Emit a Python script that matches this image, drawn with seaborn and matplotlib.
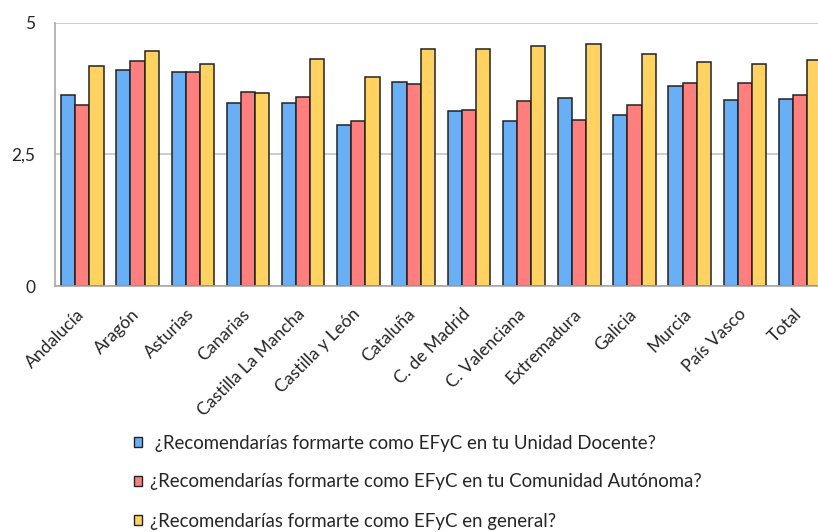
import numpy as np
import pandas as pd
import matplotlib
matplotlib.use('Agg')
import matplotlib.pyplot as plt
import matplotlib.transforms as mtransforms
import seaborn as sns

# data
regions = ['Andalucía', 'Aragón', 'Asturias', 'Canarias', 'Castilla La Mancha',
           'Castilla y León', 'Cataluña', 'C. de Madrid', 'C. Valenciana',
           'Extremadura', 'Galicia', 'Murcia', 'País Vasco', 'Total']
unidad_docente = [3.63, 4.11, 4.07, 3.48, 3.47, 3.07, 3.87, 3.32, 3.13, 3.57, 3.26, 3.80, 3.53, 3.55]
comunidad = [3.45, 4.28, 4.07, 3.69, 3.59, 3.13, 3.84, 3.34, 3.51, 3.15, 3.45, 3.85, 3.85, 3.64]
general = [4.18, 4.47, 4.22, 3.66, 4.32, 3.97, 4.51, 4.51, 4.56, 4.60, 4.41, 4.26, 4.22, 4.30]
series = ['¿Recomendarías formarte como EFyC en tu Unidad Docente?',
          '¿Recomendarías formarte como EFyC en tu Comunidad Autónoma?',
          '¿Recomendarías formarte como EFyC en general?']
colors = ['#69AFF5', '#FF7F7F', '#FFD261']

# long format for seaborn
df = pd.DataFrame({
    'Region': regions * 3,
    'Serie': [series[0]] * len(regions) + [series[1]] * len(regions) + [series[2]] * len(regions),
    'Valor': unidad_docente + comunidad + general,
})

sns.set_style('white')
plt.rcParams['font.family'] = ['Lato', 'DejaVu Sans']

W, H = 818, 532
fig = plt.figure(figsize=(W / 100, H / 100), dpi=100)
ax = fig.add_axes([0.0669, 0.4624, 0.945, 0.4944])

sns.barplot(data=df, x='Region', y='Valor', hue='Serie', palette=colors,
            width=0.77, gap=0, edgecolor='#222222', linewidth=1.1,
            legend=False, ax=ax, saturation=1)

ax.set_ylim(0, 5)
ax.set_xlim(-0.5, len(regions) - 0.5)
ax.set_yticks([0, 2.5, 5])
ax.set_yticklabels(['0', '2,5', '5'], fontsize=12.5)
ax.yaxis.grid(True, color='#C4C4C4', linewidth=1.2)
ax.set_axisbelow(True)
ax.set_xlabel('')
ax.set_ylabel('')
ax.tick_params(axis='both', length=0)
ax.tick_params(axis='y', pad=14)
ax.tick_params(axis='x', pad=3)
ax.set_xticks(range(len(regions)))
ax.set_xticklabels(regions, rotation=45, ha='right', rotation_mode='anchor', fontsize=12.7)
for s in ['top', 'right']:
    ax.spines[s].set_visible(False)
for s in ['left', 'bottom']:
    ax.spines[s].set_color('#A8A8A8')
    ax.spines[s].set_linewidth(1.2)

fig.canvas.draw()
r = fig.canvas.get_renderer()

# size the rotated labels like the original ("Castilla La Mancha" box ~113 px wide)
xlabs = ax.get_xticklabels()
w = xlabs[4].get_window_extent(r).width
fs_x = 12.7 * 113 / w
for lab in xlabs:
    lab.set_fontsize(fs_x)
fig.canvas.draw()
# place them: "Andalucía" box right edge ~87 px, top ~306 px from top
bb = xlabs[0].get_window_extent(r)
dx = 87 - bb.x1
dy = (H - 306) - bb.y1
shift = mtransforms.ScaledTranslation(dx / 100, dy / 100, fig.dpi_scale_trans)
for lab in xlabs:
    lab.set_transform(lab.get_transform() + shift)

# legend below the chart
handles = [plt.Rectangle((0, 0), 1, 1, facecolor=c, edgecolor='#222222', linewidth=1) for c in colors]
labels = [' ' + series[0], series[1], series[2]]


def make_legend(fs, ls, y_anchor):
    return fig.legend(handles, labels, loc='upper left', bbox_to_anchor=(134 / W, y_anchor),
                      frameon=False, fontsize=fs, handlelength=8 / (fs * 100 / 72),
                      handleheight=8 / (fs * 100 / 72), handletextpad=8 / (fs * 100 / 72),
                      labelspacing=ls, borderaxespad=0, borderpad=0)


fs_l, ls, y_anchor = 13.0, 1.0, 0.19
leg = make_legend(fs_l, ls, y_anchor)
fig.canvas.draw()
# text width of the longest line ~548 px
w = leg.get_texts()[1].get_window_extent(r).width
fs_l = fs_l * 548 / w
leg.remove()
leg = make_legend(fs_l, ls, y_anchor)
fig.canvas.draw()
# row pitch ~39 px
c = [t.get_window_extent(r) for t in leg.get_texts()]
pitch = (c[0].y0 + c[0].y1 - c[2].y0 - c[2].y1) / 4
ls = ls + (39 - pitch) / (fs_l * 100 / 72)
leg.remove()
leg = make_legend(fs_l, ls, y_anchor)
fig.canvas.draw()
# first row centred ~443 px from top
c0 = leg.get_texts()[0].get_window_extent(r)
y_anchor = y_anchor + ((H - 443) - (c0.y0 + c0.y1) / 2) / H
leg.remove()
leg = make_legend(fs_l, ls, y_anchor)

fig.savefig('out.png', dpi=100)
